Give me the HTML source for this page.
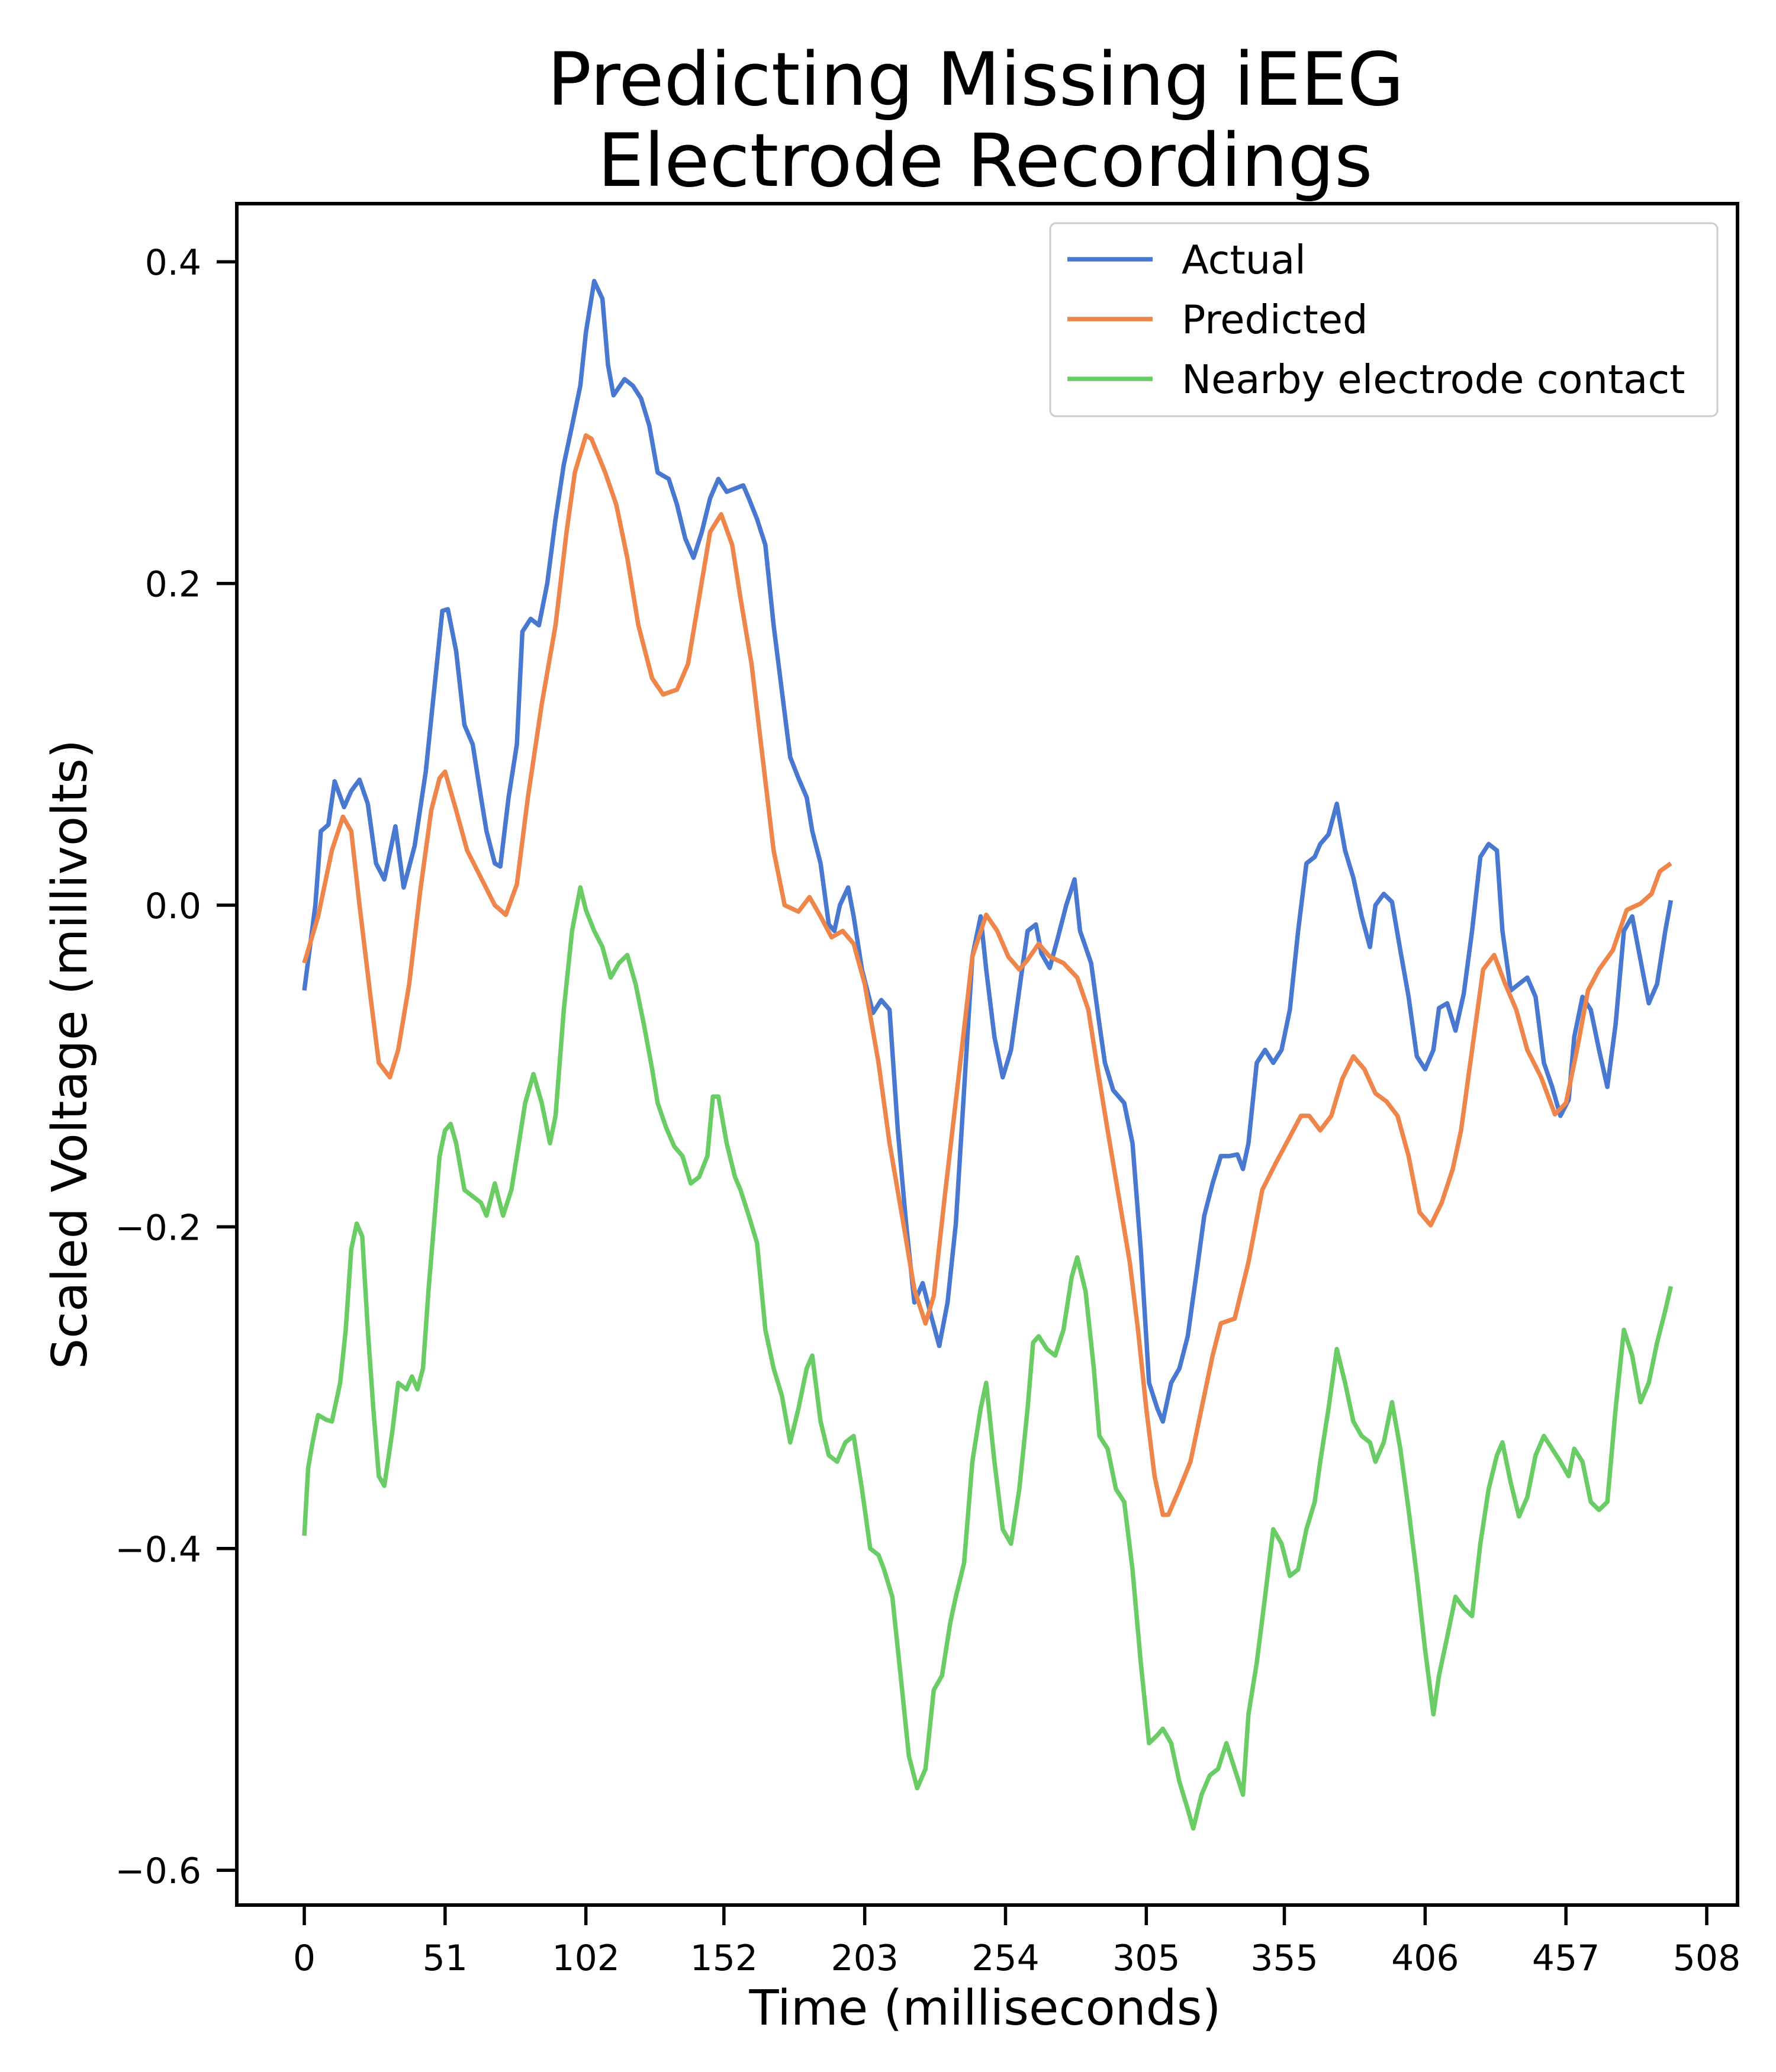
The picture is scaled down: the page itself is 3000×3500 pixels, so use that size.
<!DOCTYPE html>
<html><head><meta charset="utf-8"><style>
html,body{margin:0;padding:0;background:#fff}
svg{display:block;font-family:"DejaVu Sans","Liberation Sans",sans-serif}
</style></head><body>
<svg id="chart" width="3000" height="3500" viewBox="0 0 3000 3500" xmlns="http://www.w3.org/2000/svg">
<rect width="3000" height="3500" fill="#fff"/>
<text x="1648" y="177" font-size="124" text-anchor="middle">Predicting Missing iEEG</text>
<text x="1664" y="314" font-size="124" text-anchor="middle">Electrode Recordings</text>
<g id="plot"></g>
<g id="axes"></g>
<text x="1664" y="3420" font-size="82" text-anchor="middle">Time (milliseconds)</text>
<text x="0" y="0" font-size="82" text-anchor="middle" transform="translate(146,1781) rotate(-90)">Scaled Voltage (millivolts)</text>
<g>
<rect x="1774" y="377" width="1127" height="326" rx="10" fill="#fff" stroke="#ccc" stroke-width="3"/>
<line x1="1803" x2="1947" y1="438" y2="438" stroke="#4878d0" stroke-width="7.5"/>
<text x="1996" y="462" font-size="67">Actual</text>
<line x1="1803" x2="1947" y1="539" y2="539" stroke="#ee854a" stroke-width="7.5"/>
<text x="1996" y="563" font-size="67">Predicted</text>
<line x1="1803" x2="1947" y1="640" y2="640" stroke="#6acc64" stroke-width="7.5"/>
<text x="1996" y="664" font-size="67">Nearby electrode contact</text>
</g>
</svg>
<script>
const xTicks=[0,51,102,152,203,254,305,355,406,457,508];
const yTicks=[0.4,0.2,0.0,-0.2,-0.4,-0.6];
const yTickLabels=["0.4","0.2","0.0","\u22120.2","\u22120.4","\u22120.6"];
const actualT=[0,4,6,8.7,11,14.4,17,20,23,26,29,33,36,40,44,47,50,52,55,58,61,64,66,69,71,74,77,79,82,85,88,91,94,97,100,102,105,108,110,112,116,119,122,125,128,132,135,138,141,144,147,150,153,156,159,161,164,167,170,173,176,179,182,184,187,190,192,194,197,199,202,206,209,212,215,218,221,224,227,230,233,236,239,242,245,247,250,253,256,260,262,265,267,270,273,276,279,281,285,288,290,293,297,300,303,306,309,311,314,317,320,323,326,329,332,335,338,340,342,345,348,351,354,357,360,363,366,368,371,374,377,380,383,386,388,391,394,397,400,403,406,409,411,414,417,420,423,426,429,432,434,437,440,443,446,449,452,455,458,460,463,466,469,472,475,478,481,484,487,490,493,495];
const actualV=[-0.053,0,0.046,0.05,0.077,0.061,0.071,0.078,0.063,0.026,0.016,0.049,0.011,0.037,0.083,0.133,0.183,0.184,0.158,0.112,0.1,0.067,0.046,0.026,0.024,0.067,0.1,0.17,0.178,0.174,0.2,0.24,0.274,0.298,0.323,0.356,0.388,0.377,0.336,0.317,0.327,0.323,0.315,0.298,0.269,0.265,0.249,0.228,0.216,0.232,0.253,0.265,0.257,0.259,0.261,0.253,0.24,0.224,0.174,0.133,0.092,0.079,0.067,0.046,0.026,-0.012,-0.016,0,0.011,-0.007,-0.04,-0.067,-0.059,-0.065,-0.14,-0.198,-0.247,-0.235,-0.255,-0.274,-0.247,-0.198,-0.115,-0.032,-0.007,-0.04,-0.082,-0.107,-0.09,-0.04,-0.016,-0.012,-0.03,-0.039,-0.02,0,0.016,-0.016,-0.036,-0.074,-0.098,-0.115,-0.123,-0.148,-0.214,-0.297,-0.313,-0.321,-0.297,-0.288,-0.268,-0.231,-0.193,-0.173,-0.156,-0.156,-0.155,-0.164,-0.148,-0.098,-0.09,-0.098,-0.09,-0.065,-0.016,0.026,0.03,0.038,0.044,0.063,0.034,0.017,-0.007,-0.026,0,0.007,0.002,-0.028,-0.057,-0.094,-0.102,-0.09,-0.064,-0.061,-0.078,-0.055,-0.016,0.03,0.038,0.034,-0.016,-0.053,-0.049,-0.045,-0.057,-0.098,-0.113,-0.131,-0.121,-0.082,-0.057,-0.065,-0.09,-0.113,-0.074,-0.016,-0.007,-0.034,-0.061,-0.049,-0.016,0.003];
const predT=[0,5,10,14,17,20,24,27,31,34,38,42,46,49,51,55,59,64,69,73,77,81,86,91,95,98,102,104,109,113,117,121,126,130,135,139,143,147,151,155,158,162,166,170,174,179,183,187,191,195,199,203,208,212,217,221,225,228,232,237,242,247,251,255,259,262,266,270,275,280,284,287,291,295,299,302,305,308,311,313,317,321,325,329,332,337,342,347,352,357,361,364,368,372,376,380,384,388,392,396,400,404,408,412,416,419,423,427,431,435,439,443,448,453,457,461,465,469,474,479,484,488,491,495];
const predV=[-0.036,-0.007,0.034,0.055,0.046,0,-0.057,-0.098,-0.107,-0.09,-0.049,0.009,0.059,0.079,0.083,0.059,0.034,0.017,0,-0.006,0.013,0.067,0.125,0.174,0.232,0.269,0.292,0.29,0.269,0.249,0.216,0.174,0.141,0.131,0.134,0.15,0.191,0.232,0.243,0.224,0.191,0.15,0.092,0.034,0,-0.004,0.005,-0.007,-0.02,-0.016,-0.024,-0.049,-0.098,-0.148,-0.198,-0.239,-0.26,-0.243,-0.181,-0.107,-0.032,-0.006,-0.016,-0.032,-0.04,-0.034,-0.024,-0.032,-0.036,-0.045,-0.065,-0.098,-0.14,-0.181,-0.222,-0.264,-0.313,-0.355,-0.379,-0.379,-0.363,-0.346,-0.313,-0.28,-0.26,-0.257,-0.222,-0.177,-0.16,-0.144,-0.131,-0.131,-0.14,-0.131,-0.108,-0.094,-0.102,-0.117,-0.122,-0.131,-0.156,-0.191,-0.199,-0.185,-0.164,-0.14,-0.09,-0.04,-0.031,-0.049,-0.065,-0.09,-0.107,-0.13,-0.123,-0.09,-0.053,-0.04,-0.028,-0.003,0.001,0.007,0.021,0.026];
const nearT=[0,1.4,3,5,8,10,13,15,17,19,21,23,25,27,29,32,34,37,39,41,43,45,47,49,51,53,55,58,61,64,66,69,72,75,77,80,83,86,89,91,94,97,100,102,105,108,111,114,117,120,123,126,128,131,134,137,140,143,146,148,150,153,156,158,161,164,167,170,173,176,179,182,184,187,190,193,196,199,202,205,208,210,213,216,219,222,225,228,231,234,236,239,242,245,247,250,253,256,259,262,264,266,269,272,275,278,280,283,286,288,291,294,297,300,303,306,309,311,314,317,320,322,325,328,331,334,337,340,342,345,348,351,354,357,360,363,366,368,371,374,377,380,383,386,388,391,394,397,400,403,406,409,411,414,417,420,423,426,429,432,434,437,440,443,446,449,452,455,458,460,463,466,469,472,475,478,481,484,487,490,493,495];
const nearV=[-0.392,-0.35,-0.334,-0.317,-0.32,-0.321,-0.297,-0.264,-0.214,-0.198,-0.206,-0.264,-0.313,-0.355,-0.361,-0.326,-0.297,-0.301,-0.293,-0.301,-0.288,-0.239,-0.198,-0.156,-0.14,-0.136,-0.148,-0.177,-0.181,-0.185,-0.193,-0.173,-0.193,-0.177,-0.156,-0.123,-0.105,-0.123,-0.148,-0.131,-0.065,-0.016,0.011,-0.003,-0.016,-0.026,-0.045,-0.036,-0.031,-0.049,-0.074,-0.102,-0.123,-0.138,-0.15,-0.156,-0.173,-0.169,-0.156,-0.119,-0.119,-0.148,-0.169,-0.177,-0.193,-0.21,-0.264,-0.288,-0.305,-0.334,-0.313,-0.288,-0.28,-0.321,-0.342,-0.346,-0.334,-0.33,-0.363,-0.4,-0.404,-0.413,-0.43,-0.479,-0.529,-0.549,-0.537,-0.488,-0.479,-0.446,-0.43,-0.409,-0.346,-0.313,-0.297,-0.346,-0.388,-0.397,-0.363,-0.313,-0.272,-0.268,-0.276,-0.28,-0.264,-0.231,-0.219,-0.24,-0.288,-0.33,-0.338,-0.363,-0.371,-0.413,-0.471,-0.521,-0.516,-0.512,-0.521,-0.545,-0.562,-0.574,-0.553,-0.541,-0.537,-0.521,-0.537,-0.553,-0.503,-0.471,-0.43,-0.388,-0.397,-0.417,-0.413,-0.388,-0.371,-0.346,-0.313,-0.276,-0.297,-0.321,-0.33,-0.334,-0.346,-0.334,-0.309,-0.338,-0.376,-0.417,-0.463,-0.503,-0.479,-0.455,-0.43,-0.437,-0.442,-0.397,-0.363,-0.342,-0.334,-0.359,-0.38,-0.368,-0.342,-0.33,-0.338,-0.346,-0.355,-0.338,-0.346,-0.371,-0.376,-0.371,-0.313,-0.264,-0.28,-0.309,-0.297,-0.272,-0.252,-0.237];

const L=400,R=2935,T=344,B=3218;
function xs(t){return 514+t*(2883-514)/508;}
function ys(v){return 1529-v*2717;}
const NS="http://www.w3.org/2000/svg";
const plot=document.getElementById('plot');
const axes=document.getElementById('axes');
function series(ts,vs,color,name){
  const p=document.createElementNS(NS,'path');
  let d='';
  for(let i=0;i<ts.length;i++){d+=(i?'L':'M')+xs(ts[i]).toFixed(1)+' '+ys(vs[i]).toFixed(1);}
  p.setAttribute('d',d);p.setAttribute('fill','none');p.setAttribute('stroke',color);
  p.setAttribute('stroke-width','7.5');p.setAttribute('stroke-linejoin','round');
  
  
  plot.appendChild(p);
}
series(actualT,actualV,'#4878d0','actual-line');
series(predT,predV,'#ee854a','predicted-line');
series(nearT,nearV,'#6acc64','nearby-contact-line');

const frame=document.createElementNS(NS,'rect');
frame.setAttribute('x',L);frame.setAttribute('y',T);frame.setAttribute('width',R-L);frame.setAttribute('height',B-T);
frame.setAttribute('fill','none');frame.setAttribute('stroke','#000');frame.setAttribute('stroke-width','6');


axes.appendChild(frame);

xTicks.forEach(t=>{
  const x=xs(t);
  const l=document.createElementNS(NS,'line');
  l.setAttribute('x1',x);l.setAttribute('x2',x);l.setAttribute('y1',B);l.setAttribute('y2',B+34);
  l.setAttribute('stroke','#000');l.setAttribute('stroke-width','5.5');
  
  
  axes.appendChild(l);
  const tx=document.createElementNS(NS,'text');
  tx.setAttribute('x',x);tx.setAttribute('y',3328);tx.setAttribute('font-size','60');tx.setAttribute('text-anchor','middle');
  tx.textContent=String(t);
  
  
  axes.appendChild(tx);
});
yTicks.forEach((v,i)=>{
  const y=ys(v);
  const l=document.createElementNS(NS,'line');
  l.setAttribute('x1',L-34);l.setAttribute('x2',L);l.setAttribute('y1',y);l.setAttribute('y2',y);
  l.setAttribute('stroke','#000');l.setAttribute('stroke-width','5.5');
  
  
  axes.appendChild(l);
  const tx=document.createElementNS(NS,'text');
  tx.setAttribute('x',340);tx.setAttribute('y',y+22);tx.setAttribute('font-size','60');tx.setAttribute('text-anchor','end');
  tx.textContent=yTickLabels[i];
  
  
  axes.appendChild(tx);
});
</script>
</body></html>
